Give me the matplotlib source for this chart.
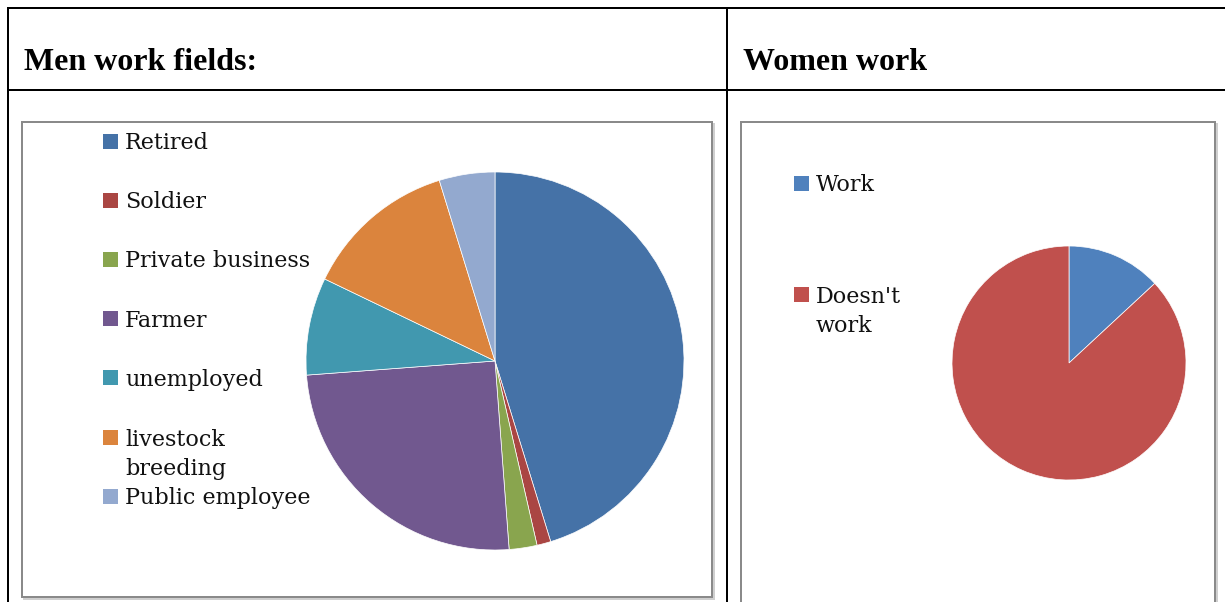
import matplotlib
matplotlib.use("Agg")
import matplotlib.pyplot as plt
from matplotlib.patches import Rectangle
import textwrap

# ---- data ----
titles = ["Men work fields:", "Women work"]

men_categories = ["Retired", "Soldier", "Private business", "Farmer",
                  "unemployed", "livestock breeding", "Public employee"]
men_counts = [38, 1, 2, 21, 7, 11, 4]
men_colors = ["#4572A7", "#AA4643", "#89A54E", "#71588F",
              "#4198AF", "#DB843D", "#93A9CF"]

women_categories = ["Work", "Doesn't work"]
women_counts = [11, 73]
women_colors = ["#4F81BD", "#C0504D"]

# ---- figure ----
W, H = 1225, 602
fig = plt.figure(figsize=(W / 100, H / 100), dpi=100)
bg = fig.add_axes([0, 0, 1, 1])
bg.set_xlim(0, W)
bg.set_ylim(H, 0)
bg.axis("off")

px = 72 / 100  # one pixel in points

# table grid
for y in (7.5, 90):
    bg.plot([6.5, W], [y, y], color="black", lw=2 * px, solid_capstyle="butt")
for x in (7.5, 726.5):
    bg.plot([x, x], [6.5, H], color="black", lw=2 * px, solid_capstyle="butt")

# header titles
bg.text(24, 70, titles[0], family="Liberation Serif", weight="bold",
        fontsize=23, va="baseline", ha="left", color="black")
bg.text(743, 70, titles[1], family="Liberation Serif", weight="bold",
        fontsize=23, va="baseline", ha="left", color="black")


def chart_box(x0, y0, x1, y1):
    bg.add_patch(Rectangle((x0 + 2, y0 + 2), x1 - x0, y1 - y0, facecolor="none",
                           edgecolor="#cfcfcf", lw=2 * px))
    bg.add_patch(Rectangle((x0, y0), x1 - x0, y1 - y0, facecolor="white",
                           edgecolor="#8a8a8a", lw=2 * px))


chart_box(22, 122, 712, 597)
chart_box(741, 122, 1215, 640)

LINE_GAP = 30  # px between wrapped lines


def legend(labels, colors, x_marker, y_first, step, wrap):
    for i, (lab, col) in enumerate(zip(labels, colors)):
        yc = y_first + step * i
        bg.add_patch(Rectangle((x_marker, yc - 7.5), 15, 15, facecolor=col,
                               edgecolor="none"))
        txt = textwrap.fill(lab, wrap)
        nlines = txt.count("\n") + 1
        bg.text(x_marker + 22, yc + 8 + (nlines - 1) * LINE_GAP, txt,
                family="DejaVu Serif", fontsize=16, va="baseline",
                ha="left", color="#111111", linespacing=1.44)


legend(men_categories, men_colors, 103, 141, 59.2, 16)
legend(women_categories, women_colors, 794, 183, 111, 10)


def pie_axes(cx, cy, r, values, colors):
    pad = 1.04
    s = r * pad
    ax = fig.add_axes([(cx - s) / W, 1 - (cy + s) / H, 2 * s / W, 2 * s / H])
    ax.pie(values, colors=colors, startangle=90, counterclock=False, radius=1,
           wedgeprops=dict(edgecolor="white", linewidth=0.5))
    ax.set_xlim(-pad, pad)
    ax.set_ylim(-pad, pad)
    ax.set_aspect("equal")
    ax.axis("off")
    return ax


pie_axes(495, 361, 189, men_counts, men_colors)
pie_axes(1069, 363, 117, women_counts, women_colors)

fig.savefig("out.png", dpi=100)
